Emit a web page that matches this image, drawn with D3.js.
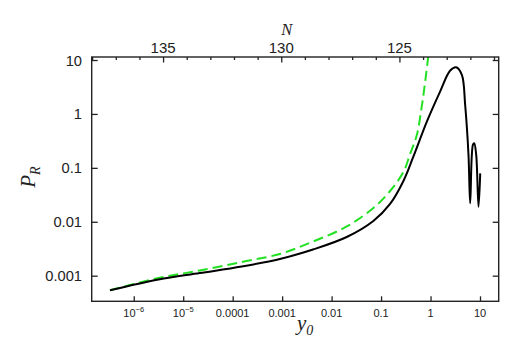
<!DOCTYPE html>
<html>
<head>
<meta charset="utf-8">
<script src="https://cdn.jsdelivr.net/npm/d3@7"></script>
<style>
  body { margin: 0; background: #fff; }
</style>
</head>
<body>
<div id="chart"></div>
<script>
// tick values and labels
const yTicks = [0.001, 0.01, 0.1, 1, 10];
const yTickLabels = ["0.001", "0.01", "0.1", "1", "10"];
const xTicks = [1e-6, 1e-5, 1e-4, 1e-3, 1e-2, 0.1, 1, 10];
const xTickLabels = [["10", "\u22126"], ["10", "\u22125"], ["0.0001"], ["0.001"], ["0.01"], ["0.1"], ["1"], ["10"]];
const nTicks = [135, 130, 125];
const nMinorTicks = [121, 122, 123, 124, 126, 127, 128, 129, 131, 132, 133, 134, 136, 137, 138];

// black solid curve
const y0Black = [3.31e-7, 3.16e-6, 2.17e-5, 1.53e-4, 9.0e-4, 4.2e-3, 0.0202, 0.0698, 0.152, 0.283, 0.451, 0.842, 1.56, 2.50, 3.30, 4.30, 5.01, 5.85, 6.33, 7.18, 7.64, 8.38, 9.33, 10.1];
const prBlack = [5.36e-4, 8.5e-4, 1.12e-3, 1.48e-3, 2.04e-3, 3.06e-3, 5.22e-3, 0.01035, 0.0214, 0.0571, 0.163, 0.72, 2.6, 6.4, 7.35, 5.30, 1.47, 0.174, 0.022, 0.266, 0.286, 0.174, 0.019, 0.079];

// green dashed curve
const y0Green = [3.31e-7, 3.16e-6, 2.17e-5, 1.53e-4, 9.0e-4, 4.26e-3, 0.0202, 0.0698, 0.152, 0.283, 0.386, 0.528, 0.667, 0.778, 0.906, 0.982];
const prGreen = [5.36e-4, 9.06e-4, 1.25e-3, 1.80e-3, 2.53e-3, 4.32e-3, 8.18e-3, 0.0180, 0.0372, 0.0839, 0.181, 0.407, 1.41, 3.93, 12.4, 23.6];

const W = 526, H = 351;
const pLeft = 91.7, pRight = 498.7, pTop = 57, pBottom = 301.3;

const svg = d3.select("#chart")
  .append("svg")
  .attr("width", W)
  .attr("height", H);

const x = d3.scaleLog()
  .domain([Math.pow(10, -6.85), Math.pow(10, 1.378)])
  .range([pLeft, pRight]);
const y = d3.scaleLog()
  .domain([Math.pow(10, -3.475), Math.pow(10, 1.056)])
  .range([pBottom, pTop]);
const xn = d3.scaleLinear()
  .domain([138.02, 120.8])
  .range([pLeft, pRight]);

const ink = "#222";

// clip for the curves
svg.append("clipPath").attr("id", "clip")
  .append("rect")
  .attr("x", pLeft).attr("y", pTop)
  .attr("width", pRight - pLeft).attr("height", pBottom - pTop);

const line = d3.line()
  .x(d => x(d[0]))
  .y(d => y(d[1]))
  .curve(d3.curveCatmullRom.alpha(0.5));

const green = y0Green.map((v, i) => [v, prGreen[i]]);
const black = y0Black.map((v, i) => [v, prBlack[i]]);

svg.append("path")
  .datum(green)
  .attr("clip-path", "url(#clip)")
  .attr("fill", "none")
  .attr("stroke", "#22e022")
  .attr("stroke-width", 2)
  .attr("stroke-dasharray", "10,5")
  .attr("d", line);

svg.append("path")
  .datum(black)
  .attr("clip-path", "url(#clip)")
  .attr("fill", "none")
  .attr("stroke", "#000")
  .attr("stroke-width", 2)
  .attr("stroke-linejoin", "round")
  .attr("d", line);

// axes (ticks only, pointing inward)
function styleAxis(g) {
  g.select(".domain").remove();
  g.selectAll("line").attr("stroke", ink).attr("stroke-width", 1.3);
  g.selectAll("text").remove();
}

svg.append("g")
  .attr("transform", `translate(${pLeft},0)`)
  .call(d3.axisLeft(y).tickValues(yTicks).tickSize(-6).tickFormat(""))
  .call(styleAxis);
svg.append("g")
  .attr("transform", `translate(${pRight},0)`)
  .call(d3.axisRight(y).tickValues(yTicks).tickSize(-6).tickFormat(""))
  .call(styleAxis);
svg.append("g")
  .attr("transform", `translate(0,${pBottom})`)
  .call(d3.axisBottom(x).tickValues(xTicks).tickSize(-5).tickFormat(""))
  .call(styleAxis);
svg.append("g")
  .attr("transform", `translate(0,${pTop})`)
  .call(d3.axisTop(xn).tickValues(nTicks).tickSize(-5.5).tickFormat(""))
  .call(styleAxis);
svg.append("g")
  .attr("transform", `translate(0,${pTop})`)
  .call(d3.axisTop(xn).tickValues(nMinorTicks).tickSize(-3).tickFormat(""))
  .call(styleAxis);

// frame
svg.append("rect")
  .attr("x", pLeft).attr("y", pTop)
  .attr("width", pRight - pLeft).attr("height", pBottom - pTop)
  .attr("fill", "none")
  .attr("stroke", ink)
  .attr("stroke-width", 1.4);

// tick labels
svg.append("g")
  .attr("font-family", "Liberation Sans, Arial, sans-serif")
  .attr("font-size", 14.7)
  .attr("fill", ink)
  .attr("text-anchor", "end")
  .selectAll("text")
  .data(yTicks)
  .join("text")
    .attr("x", 82)
    .attr("y", d => y(d) + 5.5)
    .text((d, i) => yTickLabels[i]);

const xl = svg.append("g")
  .attr("font-family", "Liberation Sans, Arial, sans-serif")
  .attr("font-size", 11)
  .attr("fill", ink)
  .attr("text-anchor", "middle")
  .selectAll("text")
  .data(xTicks)
  .join("text")
    .attr("x", d => x(d))
    .attr("y", 316.5);
xl.append("tspan").text((d, i) => xTickLabels[i][0]);
xl.filter((d, i) => xTickLabels[i].length > 1)
  .append("tspan")
    .attr("font-size", 7.5)
    .attr("dy", -4.5)
    .text(d => xTickLabels[xTicks.indexOf(d)][1]);

svg.append("g")
  .attr("font-family", "Liberation Sans, Arial, sans-serif")
  .attr("font-size", 15)
  .attr("fill", ink)
  .attr("text-anchor", "middle")
  .selectAll("text")
  .data(nTicks)
  .join("text")
    .attr("x", d => xn(d))
    .attr("y", 53)
    .text(d => d);

// axis titles
svg.append("text")
  .attr("x", 286.7).attr("y", 35)
  .attr("font-family", "Liberation Serif, serif")
  .attr("font-style", "italic")
  .attr("font-size", 16.5)
  .attr("text-anchor", "middle")
  .attr("fill", ink)
  .text("N");

const yt = svg.append("text")
  .attr("font-family", "Liberation Serif, serif")
  .attr("font-style", "italic")
  .attr("font-size", 21)
  .attr("fill", ink)
  .attr("transform", "translate(35,177) rotate(-90)")
  .attr("text-anchor", "middle");
yt.append("tspan").text("P");
yt.append("tspan").attr("font-size", 14).attr("dy", 5).text("R");

const xt = svg.append("text")
  .attr("font-family", "Liberation Serif, serif")
  .attr("font-style", "italic")
  .attr("font-size", 21)
  .attr("fill", ink)
  .attr("x", 297).attr("y", 330)
  .attr("text-anchor", "start");
xt.append("tspan").text("y");
xt.append("tspan").attr("font-size", 14).attr("dy", 4.5).text("0");
</script>
</body>
</html>
